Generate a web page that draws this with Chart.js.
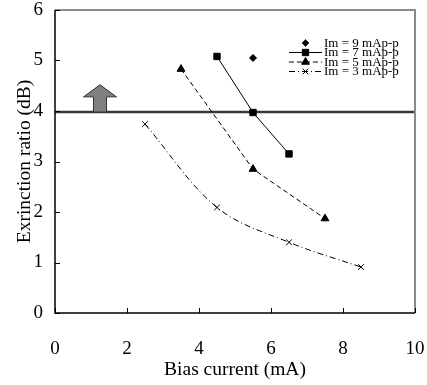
<!DOCTYPE html>
<html><head><meta charset="utf-8">
<script src="https://cdn.jsdelivr.net/npm/chart.js@4/dist/chart.umd.min.js"></script>
<style>html,body{margin:0;padding:0;background:#fff}#wrap{width:427px;height:385px}</style>
</head><body><div id="wrap"><canvas id="c" width="427" height="385"></canvas></div>
<script>
const seriesNames = ['Im = 9 mAp-p','Im = 7 mAp-p','Im = 5 mAp-p','Im = 3 mAp-p'];
const im9X = [5.5], im9Y = [5.05];
const im7X = [4.5, 5.5, 6.5], im7Y = [5.08, 3.97, 3.15];
const im5X = [3.5, 5.5, 7.5], im5Y = [4.83, 2.85, 1.87];
const im3X = [2.5, 4.5, 6.5, 8.5], im3Y = [3.74, 2.09, 1.40, 0.91];
const thresholdX = [0, 10], thresholdY = [3.98, 3.98];
const arrowX = 1.25, arrowBaseY = 3.98, arrowHeadY = 4.28, arrowTipY = 4.52;
const xTicks = [0, 2, 4, 6, 8, 10];
const yTicks = [0, 1, 2, 3, 4, 5, 6];
const FONT = "'Liberation Serif','Times New Roman',serif";

const pts = (xs, ys) => xs.map((x, i) => ({x, y: ys[i]}));

const styles = [
  {pointStyle:'rectRot', radius:3.5, dash:[], line:false},
  {pointStyle:'rect', radius:4.5, dash:[], line:true},
  {pointStyle:'triangle', radius:4.5, dash:[5,3], line:true},
  {pointStyle:'crossRot', radius:4, dash:[6,3,1,3], line:true}
];

const decor = {
  id:'decor',
  afterDraw(chart){
    const ctx = chart.ctx, a = chart.chartArea, xs = chart.scales.x, ys = chart.scales.y;
    ctx.save();
    ctx.strokeStyle = '#8a8a8a'; ctx.lineWidth = 2;
    ctx.beginPath(); ctx.moveTo(a.left, a.top); ctx.lineTo(a.right, a.top); ctx.lineTo(a.right, a.bottom); ctx.stroke();
    ctx.strokeStyle = '#000'; ctx.lineWidth = 1.5;
    ctx.beginPath(); ctx.moveTo(a.left, a.top); ctx.lineTo(a.left, a.bottom); ctx.lineTo(a.right, a.bottom); ctx.stroke();
    ctx.lineWidth = 1;
    xTicks.forEach(v => { const p = Math.round(xs.getPixelForValue(v)) + 0.5; ctx.beginPath(); ctx.moveTo(p, a.bottom); ctx.lineTo(p, a.bottom - 5); ctx.stroke(); });
    yTicks.forEach(v => { const p = Math.round(ys.getPixelForValue(v)) + 0.5; ctx.beginPath(); ctx.moveTo(a.left, p); ctx.lineTo(a.left + 5, p); ctx.stroke(); });
    const cx = xs.getPixelForValue(arrowX), yb = ys.getPixelForValue(arrowBaseY), yh = ys.getPixelForValue(arrowHeadY), yt = ys.getPixelForValue(arrowTipY);
    ctx.fillStyle = '#808080'; ctx.strokeStyle = '#333'; ctx.lineWidth = 1;
    ctx.beginPath();
    ctx.moveTo(cx - 6.5, yb); ctx.lineTo(cx - 6.5, yh); ctx.lineTo(cx - 16.5, yh); ctx.lineTo(cx, yt);
    ctx.lineTo(cx + 16.5, yh); ctx.lineTo(cx + 6.5, yh); ctx.lineTo(cx + 6.5, yb); ctx.closePath();
    ctx.fill(); ctx.stroke();
    const lx0 = 289, lx1 = 322, tx = 324, rows = [43, 52.5, 62, 71.5];
    ctx.font = '13px ' + FONT; ctx.textBaseline = 'middle'; ctx.fillStyle = '#000';
    styles.forEach((s, i) => {
      const y = rows[i];
      if (s.line) {
        ctx.strokeStyle = '#000'; ctx.lineWidth = 1; ctx.setLineDash(s.dash);
        ctx.beginPath(); ctx.moveTo(lx0, y); ctx.lineTo(lx1, y); ctx.stroke(); ctx.setLineDash([]);
      }
      Chart.helpers.drawPoint(ctx, {pointStyle: s.pointStyle, radius: s.radius, borderWidth: 1}, (lx0 + lx1) / 2, y);
      ctx.fillStyle = '#000';
      ctx.fillText(seriesNames[i], tx, y + 0.5);
    });
    ctx.restore();
  }
};

const dsFor = (name, xs, ysv, s, extra) => Object.assign({
  label: name, data: pts(xs, ysv), showLine: s.line, borderColor:'#000', backgroundColor:'#000',
  borderWidth: 1, borderDash: s.dash, pointStyle: s.pointStyle, pointRadius: s.radius,
  pointBorderWidth: 1, pointBackgroundColor:'#000', pointBorderColor:'#000', tension: 0
}, extra || {});

new Chart(document.getElementById('c'), {
  type: 'scatter',
  data: { datasets: [
    {label:'threshold', data: pts(thresholdX, thresholdY), showLine:true, borderColor:'#3a3a3a', borderWidth:2.5, pointRadius:0, order: 10},
    dsFor(seriesNames[0], im9X, im9Y, styles[0]),
    dsFor(seriesNames[1], im7X, im7Y, styles[1]),
    dsFor(seriesNames[2], im5X, im5Y, styles[2]),
    dsFor(seriesNames[3], im3X, im3Y, styles[3], {tension: 0.35})
  ]},
  options: {
    responsive:false, animation:false, devicePixelRatio:1,
    layout:{padding:{top:10, right:12, left:0, bottom:0}},
    plugins:{legend:{display:false}, tooltip:{enabled:false}},
    scales:{
      x:{type:'linear', min:0, max:10, afterBuildTicks: sc => { sc.ticks = xTicks.map(v => ({value:v})); },
         afterFit: sc => { sc.height = 72; sc.paddingLeft = 0; sc.paddingRight = 0; },
         grid:{display:false, drawTicks:false, tickLength:0}, border:{display:false},
         ticks:{padding:25, color:'#000', font:{family:FONT, size:19}, maxRotation:0},
         title:{display:true, text:'Bias current (mA)', color:'#000', font:{family:FONT, size:19.5}, padding:{top:0, bottom:3}}},
      y:{type:'linear', min:0, max:6, afterBuildTicks: sc => { sc.ticks = yTicks.map(v => ({value:v})); },
         afterFit: sc => { sc.width = 55; sc.paddingTop = 0; sc.paddingBottom = 0; },
         grid:{display:false, drawTicks:false, tickLength:0}, border:{display:false},
         ticks:{padding:12, color:'#000', font:{family:FONT, size:19}},
         title:{display:true, text:'Exrinction ratio (dB)', color:'#000', font:{family:FONT, size:19.5}, padding:{top:13, bottom:0}}}
    }
  },
  plugins:[decor]
});
</script></body></html>
